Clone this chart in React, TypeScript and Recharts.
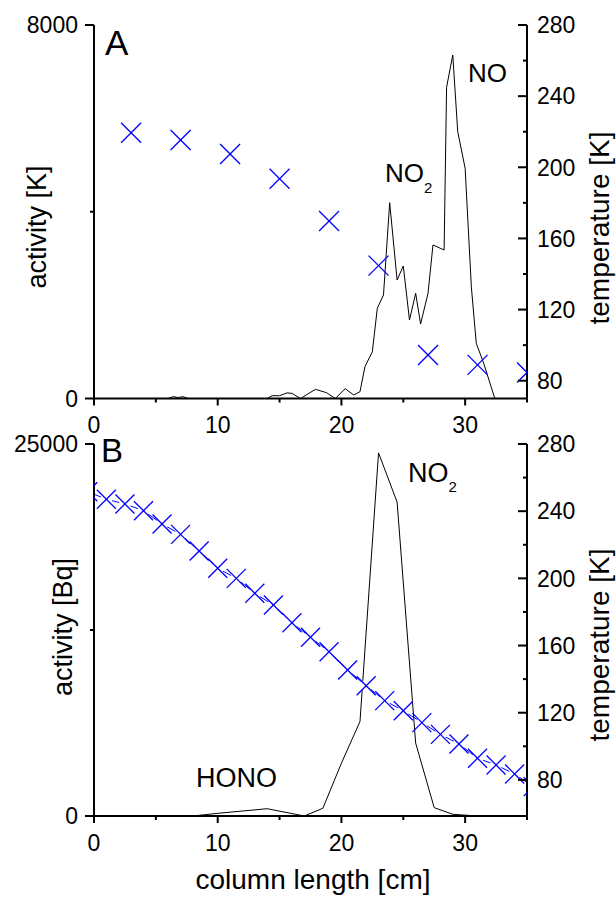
import { ComposedChart, Line, XAxis, YAxis } from 'recharts';

const FONT = '"Liberation Sans", Arial, Helvetica, sans-serif';

// panel A: activity [K] along the column
const columnA = [0, 6, 6.4, 6.8, 7.2, 7.6, 14, 14.4, 15, 15.6, 16, 16.7, 17.9, 18.8, 19.5, 20.3, 21, 21.5, 21.9, 22.5, 22.9, 23.4, 23.9, 24.5, 25, 25.5, 26, 26.4, 27, 27.4, 28.3, 28.5, 29, 29.4, 30, 30.5, 30.9, 31.5, 32.4, 35];
const activityA = [0, 0, 40, 20, 40, 0, 0, 60, 60, 120, 110, 0, 197, 124, 0, 210, 75, 146, 681, 1002, 1932, 2217, 4194, 2538, 2838, 1681, 2253, 1596, 2253, 3288, 3181, 6666, 7358, 5715, 4931, 2395, 1182, 754, 0, 0];

// panel A: temperature [K]
const tempColumnA = [3, 7, 11, 15, 19, 23, 27, 31, 35];
const temperatureA = [219.4, 215.3, 207.5, 193.6, 169.8, 144.7, 94.5, 88.9, 84.6];

// panel B: activity [Bq]
const columnB = [0, 8, 10, 14, 17, 18.5, 20, 21.5, 23, 24.5, 26, 27.5, 29, 31, 35];
const activityB = [0, 0, 180, 490, 0, 520, 3550, 6350, 24400, 21100, 4900, 560, 115, 0, 0];

// panel B: temperature [K]
const tempColumnB = [-0.5, 1, 2.5, 4, 5.5, 7, 8.5, 10, 11.5, 13, 14.5, 16, 17.5, 19, 20.5, 22, 23.5, 25, 26.5, 28, 29.5, 31, 32.5, 34, 35.5];
const temperatureB = [251.6, 247.1, 244.3, 240.3, 232.4, 226.2, 216.3, 206, 200, 191.1, 184.1, 173.6, 164.9, 156.3, 145.4, 136.1, 127.2, 121.2, 114.1, 107.1, 101.4, 92.9, 88.9, 83.5, 76];

// ticks
const xTicks = [0, 5, 10, 15, 20, 25, 30, 35];
const xLabels = [0, 10, 20, 30];
const actTicksA = [0, 4000, 8000];
const actLabelsA = [0, 8000];
const actTicksB = [0, 12500, 25000];
const actLabelsB = [0, 25000];
const tempTicks = [80, 100, 120, 140, 160, 180, 200, 220, 240, 260, 280];
const tempLabels = [80, 120, 160, 200, 240, 280];

const zip = (xs: number[], ys: number[]) => xs.map((x, i) => ({ x, y: ys[i] }));

const leftTick = (labels: number[]) => (p: any) => {
  const major = labels.includes(p.payload.value);
  return (
    <g>
      <line x1={p.x} x2={p.x - (major ? 9 : 4)} y1={p.y} y2={p.y} stroke="#000" strokeWidth={2} />
      {major && (
        <text x={p.x - 16} y={p.y} dy="0.36em" textAnchor="end" fontSize={23} fontFamily={FONT} fill="#000">
          {p.payload.value}
        </text>
      )}
    </g>
  );
};

const rightTick = (labels: number[]) => (p: any) => {
  const major = labels.includes(p.payload.value);
  return (
    <g>
      <line x1={p.x} x2={p.x - (major ? 9 : 4)} y1={p.y} y2={p.y} stroke="#000" strokeWidth={2} />
      {major && (
        <text x={p.x + 10} y={p.y} dy="0.36em" textAnchor="start" fontSize={23} fontFamily={FONT} fill="#000">
          {p.payload.value}
        </text>
      )}
    </g>
  );
};

const bottomTick = (labels: number[]) => (p: any) => {
  const major = labels.includes(p.payload.value);
  return (
    <g>
      <line x1={p.x} x2={p.x} y1={p.y} y2={p.y + (major ? 7 : 4)} stroke="#000" strokeWidth={2} />
      {major && (
        <text x={p.x} y={p.y + 34.5} textAnchor="middle" fontSize={23} fontFamily={FONT} fill="#000">
          {p.payload.value}
        </text>
      )}
    </g>
  );
};

const crossDot = (half: number, gap: boolean) => (p: any) => {
  const { cx, cy, index } = p;
  if (cx == null || cy == null) return <g key={index} />;
  return (
    <g key={index}>
      {gap && <circle cx={cx} cy={cy} r={6} fill="#fff" />}
      <line x1={cx - half} y1={cy - half} x2={cx + half} y2={cy + half} stroke="#0000ff" strokeWidth={1.3} />
      <line x1={cx - half} y1={cy + half} x2={cx + half} y2={cy - half} stroke="#0000ff" strokeWidth={1.3} />
    </g>
  );
};

const txt = { fontFamily: FONT, fill: '#000' };

function PanelA() {
  return (
    <ComposedChart width={616} height={440} margin={{ top: 25, right: 0, bottom: 0, left: 0 }}>
      <XAxis
        type="number"
        dataKey="x"
        domain={[0, 35]}
        ticks={xTicks}
        interval={0}
        allowDataOverflow
        height={41.5}
        tickSize={0}
        tickMargin={0}
        tickLine={false}
        tick={bottomTick(xLabels)}
        axisLine={{ stroke: '#000', strokeWidth: 2 }}
      />
      <YAxis
        yAxisId="act"
        orientation="left"
        width={94}
        domain={[0, 8000]}
        ticks={actTicksA}
        interval={0}
        allowDataOverflow
        tickSize={0}
        tickMargin={0}
        tickLine={false}
        tick={leftTick(actLabelsA)}
        axisLine={{ stroke: '#000', strokeWidth: 2 }}
      />
      <YAxis
        yAxisId="temp"
        orientation="right"
        width={89}
        domain={[70, 280]}
        ticks={tempTicks}
        interval={0}
        allowDataOverflow
        tickSize={0}
        tickMargin={0}
        tickLine={false}
        tick={rightTick(tempLabels)}
        axisLine={{ stroke: '#000', strokeWidth: 2 }}
      />
      <Line
        yAxisId="temp"
        data={zip(tempColumnA, temperatureA)}
        dataKey="y"
        stroke="none"
        dot={crossDot(10, false)}
        activeDot={false}
        isAnimationActive={false}
      />
      <Line
        yAxisId="act"
        data={zip(columnA, activityA)}
        dataKey="y"
        type="linear"
        stroke="#000"
        strokeWidth={1}
        dot={false}
        activeDot={false}
        isAnimationActive={false}
      />
      <text x={105} y={55} fontSize={35} {...txt}>A</text>
      <text x={468} y={82} fontSize={26} {...txt}>NO</text>
      <text x={385} y={182} fontSize={26} {...txt}>
        NO<tspan fontSize={15} dy={11}>2</tspan>
      </text>
      <text x={46} y={227} fontSize={27} textAnchor="middle" transform="rotate(-90 46 227)" {...txt}>
        activity [K]
      </text>
      <text x={609} y={228} fontSize={28} textAnchor="middle" transform="rotate(-90 609 228)" {...txt}>
        temperature [K]
      </text>
    </ComposedChart>
  );
}

function PanelB() {
  return (
    <ComposedChart width={616} height={477} margin={{ top: 24, right: 0, bottom: 0, left: 0 }}>
      <XAxis
        type="number"
        dataKey="x"
        domain={[0, 35]}
        ticks={xTicks}
        interval={0}
        allowDataOverflow
        height={81}
        tickSize={0}
        tickMargin={0}
        tickLine={false}
        tick={bottomTick(xLabels)}
        axisLine={{ stroke: '#000', strokeWidth: 2 }}
      />
      <YAxis
        yAxisId="act"
        orientation="left"
        width={94}
        domain={[0, 25000]}
        ticks={actTicksB}
        interval={0}
        allowDataOverflow
        tickSize={0}
        tickMargin={0}
        tickLine={false}
        tick={leftTick(actLabelsB)}
        axisLine={{ stroke: '#000', strokeWidth: 2 }}
      />
      <YAxis
        yAxisId="temp"
        orientation="right"
        width={89}
        domain={[58.5, 280]}
        ticks={tempTicks}
        interval={0}
        allowDataOverflow
        tickSize={0}
        tickMargin={0}
        tickLine={false}
        tick={rightTick(tempLabels)}
        axisLine={{ stroke: '#000', strokeWidth: 2 }}
      />
      <Line
        yAxisId="temp"
        data={zip(tempColumnB, temperatureB)}
        dataKey="y"
        type="linear"
        stroke="#0000ff"
        strokeWidth={1}
        dot={crossDot(9.5, true)}
        activeDot={false}
        isAnimationActive={false}
      />
      <Line
        yAxisId="act"
        data={zip(columnB, activityB)}
        dataKey="y"
        type="linear"
        stroke="#000"
        strokeWidth={1}
        dot={false}
        activeDot={false}
        isAnimationActive={false}
      />
      <text x={101} y={42} fontSize={33} {...txt}>B</text>
      <text x={408} y={62} fontSize={27} {...txt}>
        NO<tspan fontSize={15} dy={10}>2</tspan>
      </text>
      <text x={196} y={367} fontSize={27} {...txt}>HONO</text>
      <text x={72} y={207} fontSize={27} textAnchor="middle" transform="rotate(-90 72 207)" {...txt}>
        activity [Bq]
      </text>
      <text x={609} y={225} fontSize={28} textAnchor="middle" transform="rotate(-90 609 225)" {...txt}>
        temperature [K]
      </text>
      <text x={313} y={469} fontSize={28} textAnchor="middle" {...txt}>
        column length [cm]
      </text>
    </ComposedChart>
  );
}

export default function App() {
  return (
    <div
      style={{
        position: 'absolute',
        left: 0,
        top: 0,
        width: 616,
        height: 897,
        background: '#fff',
        overflow: 'hidden',
      }}
    >
      <div style={{ position: 'absolute', left: 0, top: 0 }}>
        <PanelA />
      </div>
      <div style={{ position: 'absolute', left: 0, top: 420 }}>
        <PanelB />
      </div>
    </div>
  );
}
